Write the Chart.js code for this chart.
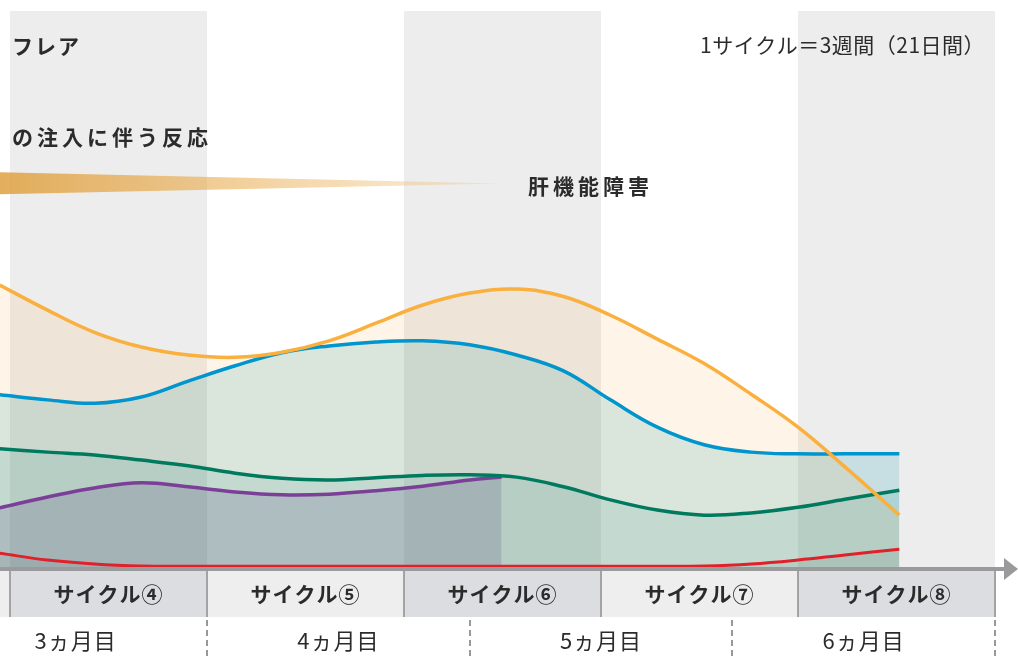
<!DOCTYPE html>
<html lang="ja">
<head>
<meta charset="utf-8">
<script src="https://cdn.jsdelivr.net/npm/chart.js@4/dist/chart.umd.min.js"></script>
<style>
  html, body { margin: 0; padding: 0; background: #fff; }
</style>
</head>
<body>
<canvas id="timeline" width="1018" height="656"></canvas>
<script>
// 日数（投与開始からの日）と各有害事象の推移（相対値）
const days = [61.9, 67, 72, 77, 82, 87, 92, 97, 102, 107, 112, 117, 122, 127, 132, 137, 142, 147, 152, 157.8];
const orangeVals = [49.8, 45.4, 41.5, 38.9, 37.5, 37.1, 38.0, 40.0, 43.1, 46.3, 48.4, 49.1, 47.8, 44.5, 40.3, 36.0, 30.6, 24.8, 17.8, 9.3];
const blueVals = [30.5, 29.6, 29.0, 30.1, 32.9, 35.6, 37.9, 39.1, 39.8, 40.0, 39.3, 37.5, 34.7, 29.6, 24.8, 21.7, 20.4, 20.1, 20.1, 20.1];
const greenVals = [21.0, 20.4, 19.9, 19.0, 18.0, 16.7, 15.8, 15.5, 15.9, 16.3, 16.4, 16.0, 14.3, 12.0, 10.2, 9.3, 9.7, 10.7, 12.1, 13.7];
const redVals = [2.6, 1.4, 0.7, 0.35, 0.3, 0.3, 0.3, 0.3, 0.3, 0.3, 0.3, 0.3, 0.3, 0.3, 0.3, 0.35, 0.7, 1.4, 2.3, 3.3];
const purpleDays = [61.9, 67, 72, 77, 82, 87, 92, 97, 102, 107, 112, 115.4];
const purpleVals = [10.6, 12.5, 14.1, 15.0, 14.3, 13.4, 12.9, 13.0, 13.6, 14.4, 15.5, 16.0];

// 注入に伴う反応（くさび形）
const wedgeDays = [61.5, 115.2];
const wedgeTop = [69.7, 67.7];
const wedgeBottom = [65.8, 67.7];

// サイクル（1サイクル＝21日）と月
const cycleStarts = [42, 63, 84, 105, 126, 147];
const cycleLabels = ['サイクル③', 'サイクル④', 'サイクル⑤', 'サイクル⑥', 'サイクル⑦', 'サイクル⑧'];
const cycleLen = 21;
const monthEdges = [56, 84, 112, 140, 168];
const monthLabels = ['3ヵ月目', '4ヵ月目', '5ヵ月目', '6ヵ月目'];

const xMin = 61.934, xMax = 170.45;
const FONT = '"Noto Sans CJK JP", "Noto Sans", sans-serif';

function pts(xs, ys) {
  return xs.map((x, i) => ({ x: x, y: ys[i] }));
}

function line(label, xs, ys, color, fill) {
  return {
    label: label,
    data: pts(xs, ys),
    borderColor: color,
    borderWidth: 3.5,
    backgroundColor: fill,
    fill: 'origin',
    pointRadius: 0,
    tension: 0.4
  };
}

// 背景のグレー帯とサイクル表
const backdrop = {
  id: 'backdrop',
  beforeDraw(chart) {
    const { ctx, chartArea, scales: { x } } = chart;
    ctx.save();
    cycleStarts.forEach((s, i) => {
      const x0 = x.getPixelForValue(s), x1 = x.getPixelForValue(s + cycleLen);
      const even = i % 2 === 1;
      if (even) {
        ctx.fillStyle = '#ededed';
        ctx.fillRect(x0, 11, x1 - x0, chartArea.bottom - 11);
      }
      ctx.fillStyle = even ? '#dcdde0' : '#eeeeee';
      ctx.fillRect(x0, 571, x1 - x0, 46);
    });
    ctx.restore();
  },
  afterDraw(chart) {
    const { ctx, scales: { x } } = chart;
    ctx.save();
    // 横軸の矢印
    ctx.strokeStyle = '#9a9a9c';
    ctx.lineWidth = 4;
    ctx.beginPath();
    ctx.moveTo(0, 569);
    ctx.lineTo(1006, 569);
    ctx.stroke();
    ctx.fillStyle = '#9a9a9c';
    ctx.beginPath();
    ctx.moveTo(1004, 558);
    ctx.lineTo(1018, 569);
    ctx.lineTo(1004, 580);
    ctx.closePath();
    ctx.fill();

    // サイクルの区切り
    ctx.strokeStyle = '#a3a3a3';
    ctx.lineWidth = 2;
    cycleStarts.concat([168]).forEach(s => {
      const px = Math.round(x.getPixelForValue(s));
      ctx.beginPath();
      ctx.moveTo(px, 571);
      ctx.lineTo(px, 617);
      ctx.stroke();
    });

    // 月の区切り（破線）
    ctx.strokeStyle = '#777';
    ctx.lineWidth = 1.5;
    ctx.setLineDash([6, 4]);
    monthEdges.forEach(m => {
      const px = Math.round(x.getPixelForValue(m));
      ctx.beginPath();
      ctx.moveTo(px, 620);
      ctx.lineTo(px, 656);
      ctx.stroke();
    });
    ctx.setLineDash([]);

    ctx.fillStyle = '#2b2b2b';
    ctx.textBaseline = 'middle';
    ctx.textAlign = 'center';
    ctx.font = 'bold 21px ' + FONT;
    ctx.letterSpacing = '1px';
    cycleStarts.forEach((s, i) => {
      ctx.fillText(cycleLabels[i], x.getPixelForValue(s + cycleLen / 2), 594);
    });
    ctx.font = '22px ' + FONT;
    ctx.letterSpacing = '1px';
    monthLabels.forEach((t, i) => {
      const mid = (monthEdges[i] + monthEdges[i + 1]) / 2;
      ctx.fillText(t, x.getPixelForValue(mid), 641);
    });

    // 注記
    ctx.textAlign = 'left';
    ctx.font = 'bold 21px ' + FONT;
    ctx.letterSpacing = '2px';
    ctx.fillText('フレア', 12, 46);
    ctx.letterSpacing = '4px';
    ctx.fillText('の注入に伴う反応', 12, 137);
    ctx.fillText('肝機能障害', 528, 186);
    ctx.font = '21px ' + FONT;
    ctx.letterSpacing = '0.5px';
    ctx.fillText('1サイクル＝3週間（21日間）', 700, 45);
    ctx.restore();
  }
};

new Chart(document.getElementById('timeline'), {
  type: 'line',
  data: {
    datasets: [
      line('系列A', days, orangeVals, '#f9b03f', 'rgba(249,176,64,0.12)'),
      line('系列B', days, blueVals, '#0095cc', 'rgba(0,150,170,0.16)'),
      line('系列C', days, greenVals, '#007a5e', 'rgba(0,125,120,0.12)'),
      line('系列D', purpleDays, purpleVals, '#7b3f98', 'rgba(110,60,140,0.22)'),
      Object.assign(line('系列E', days, redVals, '#e0202a', 'rgba(110,110,110,0.12)'), { borderWidth: 3 }),
      {
        label: '注入に伴う反応',
        data: pts(wedgeDays, wedgeTop),
        borderWidth: 0,
        pointRadius: 0,
        fill: '+1',
        backgroundColor(context) {
          const chart = context.chart;
          if (!chart.chartArea) return 'rgba(225,165,70,0.8)';
          const x = chart.scales.x;
          const g = chart.ctx.createLinearGradient(x.getPixelForValue(wedgeDays[0]), 0, x.getPixelForValue(wedgeDays[1]), 0);
          g.addColorStop(0, 'rgba(222,160,62,0.85)');
          g.addColorStop(0.42, 'rgba(233,172,80,0.62)');
          g.addColorStop(1, 'rgba(240,195,130,0.3)');
          return g;
        }
      },
      {
        label: 'wedge-bottom',
        data: pts(wedgeDays, wedgeBottom),
        borderWidth: 0,
        pointRadius: 0,
        fill: false
      }
    ]
  },
  options: {
    responsive: false,
    animation: false,
    layout: { padding: { left: 0, right: 0, top: 0, bottom: 88 } },
    scales: {
      x: { type: 'linear', min: xMin, max: xMax, display: false },
      y: { min: 0, max: 100, display: false }
    },
    plugins: {
      legend: { display: false },
      tooltip: { enabled: false },
      filler: { drawTime: 'beforeDatasetsDraw' }
    }
  },
  plugins: [backdrop]
});
</script>
</body>
</html>
